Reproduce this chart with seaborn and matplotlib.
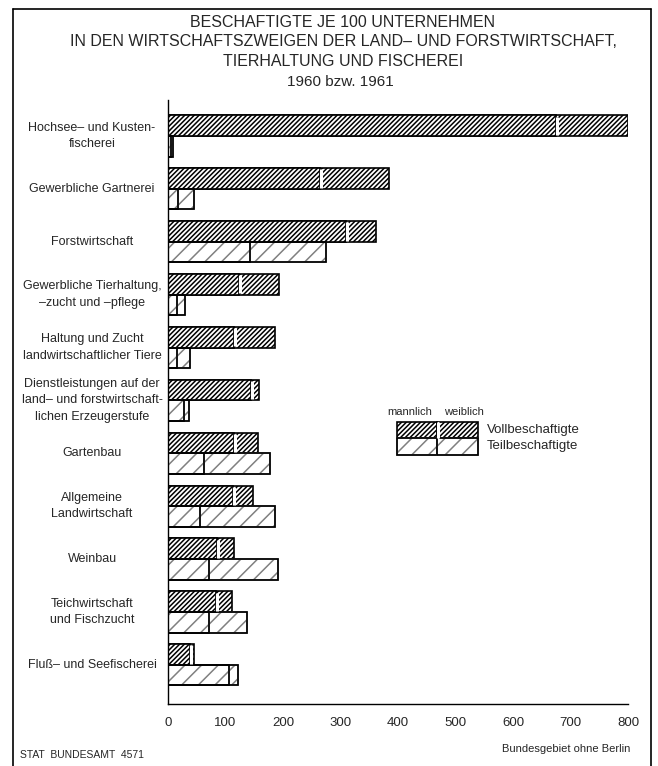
import seaborn as sns
import pandas as pd
import matplotlib.pyplot as plt
from matplotlib.lines import Line2D
from matplotlib.patches import Rectangle
from matplotlib.transforms import blended_transform_factory

# Data
branches = [
    "Hochsee– und Kusten-\nfischerei",
    "Gewerbliche Gartnerei",
    "Forstwirtschaft",
    "Gewerbliche Tierhaltung,\n–zucht und –pflege",
    "Haltung und Zucht\nlandwirtschaftlicher Tiere",
    "Dienstleistungen auf der\nland– und forstwirtschaft-\nlichen Erzeugerstufe",
    "Gartenbau",
    "Allgemeine\nLandwirtschaft",
    "Weinbau",
    "Teichwirtschaft\nund Fischzucht",
    "Fluß– und Seefischerei",
]
voll_total = [800, 385, 361, 193, 186, 159, 157, 147, 114, 112, 46]
voll_maennlich = [675, 264, 309, 123, 114, 145, 114, 113, 86, 83, 39]
teil_total = [9, 45, 274, 30, 39, 36, 177, 186, 191, 137, 121]
teil_maennlich = [6, 17, 143, 16, 16, 27, 63, 56, 71, 71, 106]
kinds = ["Vollbeschaftigte", "Teilbeschaftigte"]
xticks = [0, 100, 200, 300, 400, 500, 600, 700, 800]

total = pd.DataFrame({
    "Zweig": branches * 2,
    "Art": [kinds[0]] * len(branches) + [kinds[1]] * len(branches),
    "Wert": voll_total + teil_total,
})
male = pd.DataFrame({
    "Zweig": branches * 2,
    "Art": [kinds[0]] * len(branches) + [kinds[1]] * len(branches),
    "Wert": voll_maennlich + teil_maennlich,
})

sns.set_style("white")
plt.rcParams['font.family'] = ['Liberation Sans', 'DejaVu Sans']
plt.rcParams['hatch.linewidth'] = 1.1

W, H = 658, 766
fig = plt.figure(figsize=(W / 100, H / 100), dpi=100)
ax = fig.add_axes([168 / W, 1 - 704 / H, 460 / W, 604 / H])

hatches = {kinds[0]: "///////", kinds[1]: "//"}
teil_grey = "0.5"

n0 = len(ax.patches)
sns.barplot(data=total, y="Zweig", x="Wert", hue="Art", hue_order=kinds,
            orient="h", width=0.78, palette=["white", "white"],
            edgecolor="black", linewidth=1.2, legend=False, ax=ax, errorbar=None)
n1 = len(ax.patches)
sns.barplot(data=male, y="Zweig", x="Wert", hue="Art", hue_order=kinds,
            orient="h", width=0.78, palette=["white", "white"],
            edgecolor="black", linewidth=1.2, legend=False, ax=ax, errorbar=None)
n2 = len(ax.patches)

nb = len(branches)
outlines = []
for block in (range(n0, n1), range(n1, n2)):
    for i, idx in enumerate(block):
        p = ax.patches[idx]
        if i < nb:
            p.set_hatch(hatches[kinds[0]])
        else:
            # lighter hatch for part-time bars, black outline drawn on top
            p.set_hatch(hatches[kinds[1]])
            p.set_edgecolor(teil_grey)
            outlines.append((p.get_xy(), p.get_width(), p.get_height(), p.get_zorder()))
for xy, w, h, z in outlines:
    ax.add_patch(Rectangle(xy, w, h, fill=False, edgecolor="black", lw=1.2, zorder=z + 0.1))

# white gap between maennlich / weiblich on the Vollbeschaftigte bars
for idx in range(n1, n1 + nb):
    p = ax.patches[idx]
    x = p.get_width()
    y0, h = p.get_y(), p.get_height()
    ax.plot([x + 1.8, x + 1.8], [y0 + h * 0.06, y0 + h * 0.94],
            color="white", lw=2.2, solid_capstyle="butt", zorder=5)

ax.set_xlim(0, 800)
ax.set_ylim(10.74, -0.68)
ax.set_xticks(xticks)
ax.set_xticklabels([str(t) for t in xticks], fontsize=9.5)
ax.tick_params(axis="x", direction="inout", length=11, width=1, pad=4)
ax.set_yticks([])
ax.set_xlabel("")
ax.set_ylabel("")
for s in ("top", "right"):
    ax.spines[s].set_visible(False)
for s in ("left", "bottom"):
    ax.spines[s].set_color("black")
    ax.spines[s].set_linewidth(1.0)

# category labels
tr = blended_transform_factory(fig.transFigure, ax.transData)
for i, lab in enumerate(branches):
    ax.text(92 / W, i, lab, transform=tr, ha="center", va="center",
            fontsize=9, linespacing=1.5, clip_on=False)

# title
title = ("BESCHAFTIGTE JE 100 UNTERNEHMEN\n"
         "IN DEN WIRTSCHAFTSZWEIGEN DER LAND– UND FORSTWIRTSCHAFT,\n"
         "TIERHALTUNG UND FISCHEREI")
fig.text(343 / W, 1 - 42 / H, title, ha="center", va="center",
         fontsize=11.5, linespacing=1.4)
fig.text(340 / W, 1 - 82 / H, "1960 bzw. 1961", ha="center", va="center", fontsize=11)

# legend
lx0, lx1, lx2 = 397 / W, 437 / W, 478 / W
ly0, ly1, ly2 = 1 - 422 / H, 1 - 438 / H, 1 - 455 / H
for xa, xb in ((lx0, lx1), (lx1, lx2)):
    fig.add_artist(Rectangle((xa, ly1), xb - xa, ly0 - ly1, transform=fig.transFigure,
                             facecolor="white", edgecolor="black", lw=1.2, hatch=hatches[kinds[0]]))
    fig.add_artist(Rectangle((xa, ly2), xb - xa, ly1 - ly2, transform=fig.transFigure,
                             facecolor="white", edgecolor=teil_grey, lw=1.2, hatch=hatches[kinds[1]]))
    fig.add_artist(Rectangle((xa, ly2), xb - xa, ly1 - ly2, transform=fig.transFigure,
                             fill=False, edgecolor="black", lw=1.2))
fig.add_artist(Line2D([lx1 + 1.5 / W] * 2, [ly1 + 1.5 / H, ly0 - 1.5 / H], transform=fig.transFigure,
                      color="white", lw=2.2))
fig.text(410 / W, 1 - 412 / H, "mannlich", ha="center", va="center", fontsize=8)
fig.text(464 / W, 1 - 412 / H, "weiblich", ha="center", va="center", fontsize=8)
fig.text(487 / W, (ly0 + ly1) / 2, kinds[0], ha="left", va="center", fontsize=9.5)
fig.text(487 / W, (ly1 + ly2) / 2, kinds[1], ha="left", va="center", fontsize=9.5)

# footer
fig.text(20 / W, 1 - 755 / H, "STAT  BUNDESAMT  4571", ha="left", va="center", fontsize=7.5)
fig.text(630 / W, 1 - 749 / H, "Bundesgebiet ohne Berlin", ha="right", va="center", fontsize=8)

# frame
for xs, ys in (([13, 13], [9, 766]), ([13, 651], [9, 9]), ([651, 651], [9, 766])):
    fig.add_artist(Line2D([x / W for x in xs], [1 - y / H for y in ys],
                          transform=fig.transFigure, color="black", lw=1.2))

fig.savefig("out.png", dpi=100)
